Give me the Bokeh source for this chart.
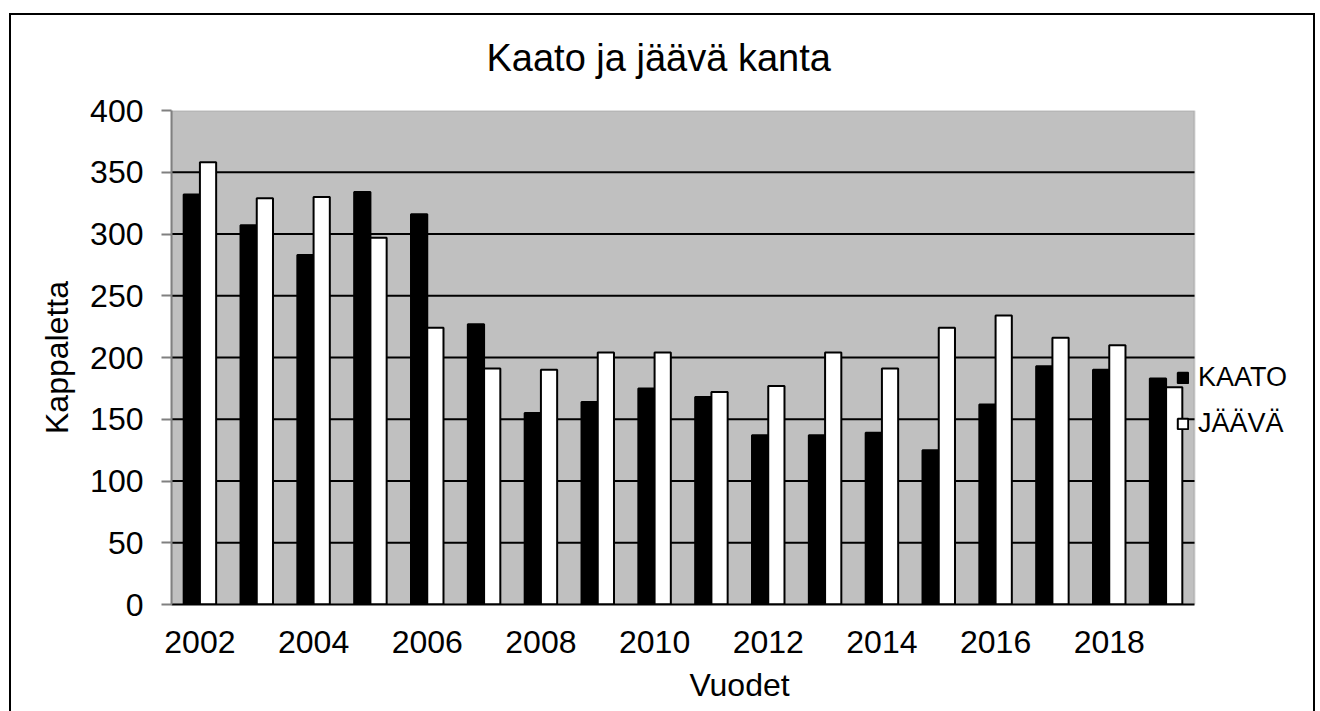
from bokeh.plotting import figure
from bokeh.models import (Range1d, FixedTicker, Legend, LegendItem, Title,
                          ColumnDataSource, BoxAnnotation)
from bokeh.transform import dodge
from bokeh.embed import file_html
from bokeh.resources import INLINE

# ---- data ----
years = [2002, 2003, 2004, 2005, 2006, 2007, 2008, 2009, 2010,
         2011, 2012, 2013, 2014, 2015, 2016, 2017, 2018, 2019]
kaato = [332, 307, 283, 334, 316, 227, 155, 164, 175,
         168, 137, 137, 139, 125, 162, 193, 190, 183]
jaava = [358, 329, 330, 297, 224, 191, 190, 204, 204,
         172, 177, 204, 191, 224, 234, 216, 210, 176]
x_tick_years = [2002, 2004, 2006, 2008, 2010, 2012, 2014, 2016, 2018]
y_ticks = [0, 50, 100, 150, 200, 250, 300, 350, 400]
series_names = ["KAATO", "JÄÄVÄ"]
title_text = "Kaato ja jäävä kanta"
x_label = "Vuodet"
y_label = "Kappaletta"

FONT = "Liberation Sans"
BAR_W = 1 / 3.5

# layout geometry (pixels)
CANVAS_W, CANVAS_H = 1306, 711
MB_LEFT, MB_RIGHT, MB_TOP, MB_BOTTOM = 162, 8, 110, 107
DATA_PX = 1023                      # width of the gray plot area
frame_w = CANVAS_W - MB_LEFT - MB_RIGHT
x_start = years[0] - 0.5
x_data_end = years[-1] + 0.5
px_per_unit = DATA_PX / (x_data_end - x_start)
x_end = x_start + frame_w / px_per_unit

src = ColumnDataSource(dict(year=years, kaato=kaato, jaava=jaava))
grid_src = ColumnDataSource(dict(y=y_ticks[1:-1],
                                 x0=[x_start] * (len(y_ticks) - 2),
                                 x1=[x_data_end] * (len(y_ticks) - 2)))

p = figure(width=CANVAS_W, height=CANVAS_H, output_backend="svg",
           toolbar_location=None,
           x_range=Range1d(x_start, x_end),
           y_range=Range1d(y_ticks[0], y_ticks[-1]),
           min_border_left=MB_LEFT, min_border_right=MB_RIGHT,
           min_border_top=MB_TOP, min_border_bottom=MB_BOTTOM)
p.margin = (0, 0, 0, 9)
# outer chart box (top, left and right edges) drawn as CSS background lines
p.styles = {
    "background-color": "white",
    "background-image": ("linear-gradient(#000,#000), linear-gradient(#000,#000), "
                         "linear-gradient(#000,#000)"),
    "background-size": f"{CANVAS_W}px 2px, 2px {CANVAS_H}px, 2px {CANVAS_H}px",
    "background-position": f"0px 13px, 0px 13px, {CANVAS_W - 2}px 13px",
    "background-repeat": "no-repeat",
}

p.background_fill_color = "white"
p.border_fill_alpha = 0
p.outline_line_color = None

# gray plot area with gray border
p.add_layout(BoxAnnotation(left=x_start, right=x_data_end,
                           bottom=y_ticks[0], top=y_ticks[-1],
                           fill_color="#C0C0C0", fill_alpha=1,
                           line_color="#808080", line_width=2,
                           level="underlay"))

# horizontal grid lines over the plot area only
p.segment(x0="x0", x1="x1", y0="y", y1="y", source=grid_src,
          line_color="black", line_width=2)

r1 = p.vbar(x=dodge("year", -BAR_W / 2), top="kaato", width=BAR_W, source=src,
            fill_color="black", line_color="black", line_width=2)
r2 = p.vbar(x=dodge("year", BAR_W / 2), top="jaava", width=BAR_W, source=src,
            fill_color="white", line_color="black", line_width=2)

p.xgrid.visible = False
p.ygrid.visible = False

p.title = None
t = Title(text=title_text, align="left", vertical_align="bottom",
          text_font=FONT, text_font_size="38px", text_font_style="normal",
          text_color="black", offset=315, standoff=64)
p.add_layout(t, "above")

# x axis
xa = p.xaxis[0]
xa.ticker = FixedTicker(ticks=x_tick_years)
xa.bounds = (x_start, x_data_end)
xa.major_tick_out = 0
xa.major_tick_in = 0
xa.minor_tick_out = 0
xa.minor_tick_in = 0
xa.axis_line_color = "black"
xa.axis_line_width = 2
xa.major_label_text_font = FONT
xa.major_label_text_font_size = "32px"
xa.major_label_text_color = "black"
xa.major_label_standoff = 26
xa.axis_label = x_label
xa.axis_label_text_font = FONT
xa.axis_label_text_font_size = "32px"
xa.axis_label_text_font_style = "normal"
xa.axis_label_text_color = "black"
xa.axis_label_standoff = 11

# y axis
ya = p.yaxis[0]
ya.ticker = FixedTicker(ticks=y_ticks)
ya.major_tick_out = 10
ya.major_tick_in = 0
ya.minor_tick_out = 0
ya.minor_tick_in = 0
ya.major_tick_line_color = "#808080"
ya.major_tick_line_width = 2
ya.axis_line_color = "#808080"
ya.axis_line_width = 2
ya.major_label_text_font = FONT
ya.major_label_text_font_size = "32px"
ya.major_label_text_color = "black"
ya.major_label_standoff = 18
ya.axis_label = y_label
ya.axis_label_text_font = FONT
ya.axis_label_text_font_size = "32px"
ya.axis_label_text_font_style = "normal"
ya.axis_label_text_color = "black"
ya.axis_label_standoff = 12

legend = Legend(items=[LegendItem(label=series_names[0], renderers=[r1]),
                       LegendItem(label=series_names[1], renderers=[r2])],
                location=(1005, 165), orientation="vertical",
                glyph_width=13, glyph_height=13, label_standoff=9,
                label_text_font=FONT, label_text_font_size="27px",
                label_text_color="black", spacing=15, padding=0, margin=0,
                border_line_alpha=0, background_fill_alpha=0)
p.add_layout(legend, "center")

open("out.html", "w").write(file_html(p, INLINE))
